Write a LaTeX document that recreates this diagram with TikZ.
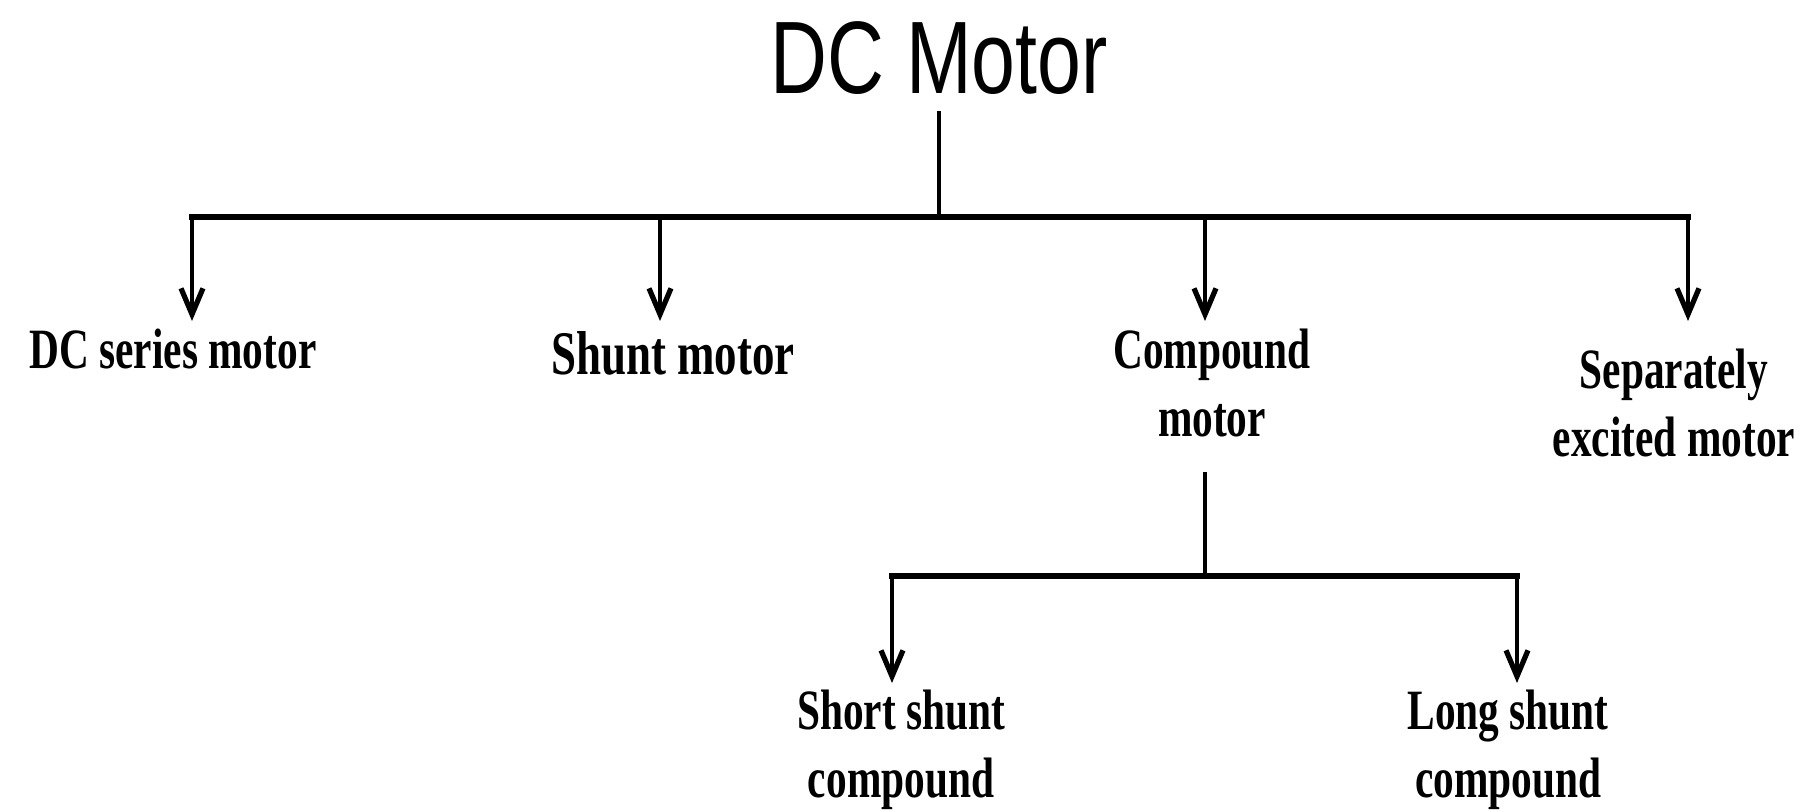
\documentclass[tikz,border=0pt]{standalone}
\usepackage{fontspec}
\usetikzlibrary{arrows.meta}
\newfontfamily\titlefont{Liberation Sans}[FakeStretch=0.765]
\newfontfamily\lblfont{Liberation Serif}[FakeStretch=0.725]
\tikzset{
  wire/.style={line width=2.3pt},
  bus/.style={line width=2.8pt, line cap=rect},
  arr/.style={line width=2.3pt, -{Straight Barb[length=13pt,width=11pt,line width=2.6pt]}},
  lbl/.style={anchor=base, align=center, inner sep=0pt,
    font=\lblfont\bfseries\fontsize{28.5pt}{34pt}\selectfont},
}
\begin{document}
\begin{tikzpicture}[x=0.5pt, y=-0.5pt]
  \useasboundingbox (0,0) rectangle (1805,812);

  % title
  \node[anchor=base, inner xsep=0pt, inner ysep=8pt,
        font=\titlefont\fontsize{51.5pt}{60pt}\selectfont] (root) at (939,94) {DC Motor};

  % first level labels (base = baseline of the last line)
  \node[lbl] (series)   at (173,369)  {DC series motor};
  \node[lbl, font=\lblfont\bfseries\fontsize{31pt}{36pt}\selectfont] (shunt) at (673,375) {Shunt motor};
  \node[lbl] (compound) at (1212,437) {Compound\\motor};
  \node[lbl] (separate) at (1674,457) {Separately\\excited motor};

  % second level labels
  \node[lbl] (short) at (901,797)  {Short shunt\\compound};
  \node[lbl] (long)  at (1508,797) {Long shunt\\compound};

  % connector points
  \coordinate (bus)  at (939,217);
  \coordinate (t1)   at (192,321);
  \coordinate (t2)   at (660,321);
  \coordinate (t3)   at (1205,321);
  \coordinate (t4)   at (1688,321);
  \coordinate (cstem) at (1205,472);
  \coordinate (cbus) at (1205,576);
  \coordinate (s1)   at (892,683);
  \coordinate (s2)   at (1517,683);

  % first level tree
  \draw[wire] (root.south) -- (root.south |- bus);
  \draw[bus] (t1 |- bus) -- (t4 |- bus);
  \draw[arr] (t1 |- bus) -- (t1);
  \draw[arr] (t2 |- bus) -- (t2);
  \draw[arr] (t3 |- bus) -- (t3);
  \draw[arr] (t4 |- bus) -- (t4);

  % compound branch
  \draw[wire] (cstem) -- (cbus);
  \draw[bus] (s1 |- cbus) -- (s2 |- cbus);
  \draw[arr] (s1 |- cbus) -- (s1);
  \draw[arr] (s2 |- cbus) -- (s2);
\end{tikzpicture}
\end{document}
